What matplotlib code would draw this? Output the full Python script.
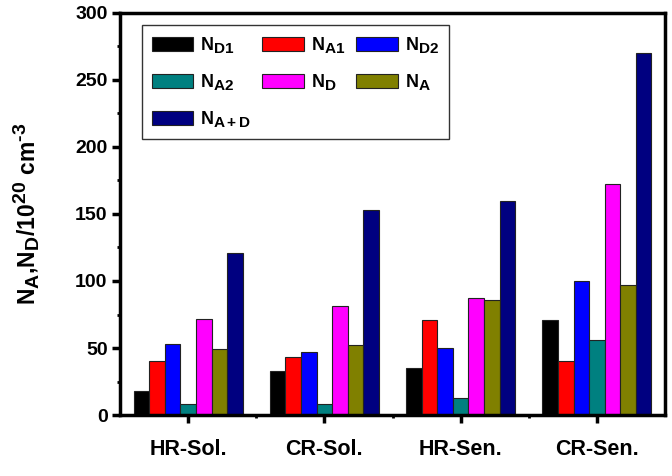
import numpy as np
import matplotlib
matplotlib.use("Agg")
import matplotlib.pyplot as plt
import matplotlib._mathtext as mtext
from matplotlib.ticker import MultipleLocator, FixedLocator

plt.rcParams["font.family"] = ["Liberation Sans", "DejaVu Sans"]
plt.rcParams["font.weight"] = "bold"
plt.rcParams["mathtext.fontset"] = "custom"
plt.rcParams["mathtext.rm"] = "Liberation Sans:bold"
plt.rcParams["mathtext.it"] = "Liberation Sans:bold"
plt.rcParams["mathtext.bf"] = "Liberation Sans:bold"
plt.rcParams["mathtext.default"] = "bf"
# Origin-style sub/superscripts are nearly full size
mtext.SHRINK_FACTOR = 0.85

# samples and densities (units of 10^20 cm^-3)
samples = ["HR-Sol.", "CR-Sol.", "HR-Sen.", "CR-Sen."]
n_d1 = [18, 33, 35, 71]
n_a1 = [40, 43, 71, 40]
n_d2 = [53, 47, 50, 100]
n_a2 = [8, 8, 13, 56]
n_d = [72, 81, 87, 172]
n_a = [49, 52, 86, 97]
n_ad = [121, 153, 160, 270]

series = [n_d1, n_a1, n_d2, n_a2, n_d, n_a, n_ad]
labels = [r"$N_{D1}$", r"$N_{A1}$", r"$N_{D2}$", r"$N_{A2}$",
          r"$N_D$", r"$N_A$", r"$N_{A+D}$"]
colors = ["#000000", "#ff0000", "#0000ff", "#008080",
          "#ff00ff", "#808000", "#000080"]

fig = plt.figure(figsize=(6.72, 4.76), dpi=100)
ax = fig.add_axes([0.1786, 0.128, 0.811, 0.845])

x = np.arange(1, len(samples) + 1)
w = 0.8 / len(series)
bars = []
for i, (vals, lab, col) in enumerate(zip(series, labels, colors)):
    off = (i - (len(series) - 1) / 2) * w
    b = ax.bar(x + off, vals, width=w, color=col, edgecolor="#222222",
               linewidth=0.8, label=lab)
    bars.append(b)

ax.set_xlim(0.5, 4.5)
ax.set_ylim(0, 300)
ax.set_xticks(x)
ax.set_xticklabels(samples)
ax.xaxis.set_minor_locator(FixedLocator([1.5, 2.5, 3.5]))
ax.yaxis.set_major_locator(MultipleLocator(50))
ax.yaxis.set_minor_locator(MultipleLocator(25))
ax.tick_params(axis="both", which="major", direction="out", length=6,
               width=2.5, pad=3)
ax.tick_params(axis="y", which="major", labelsize=14)
ax.tick_params(axis="x", which="major", labelsize=15.5, pad=11)
ax.tick_params(axis="both", which="minor", direction="out", length=2.5,
               width=2)
for sp in ax.spines.values():
    sp.set_linewidth(2.5)

ax.set_ylabel(r"$N_A{,}N_D/10^{20}\ cm^{\text{-}3}$", fontsize=16.5, labelpad=24)

# row-major legend order (matplotlib fills columns first)
order = [0, 3, 6, 1, 4, 2, 5]
leg = ax.legend([bars[i] for i in order], [labels[i] for i in order],
                ncol=3, loc="upper left", bbox_to_anchor=(0.04, 0.97),
                fontsize=13, frameon=True, fancybox=False,
                edgecolor="black", handlelength=2.3, handleheight=0.83,
                handletextpad=0.4, columnspacing=0.6, labelspacing=0.95,
                borderpad=0.55, borderaxespad=0)
leg.get_frame().set_linewidth(1.0)

fig.savefig("out.png", dpi=100)
